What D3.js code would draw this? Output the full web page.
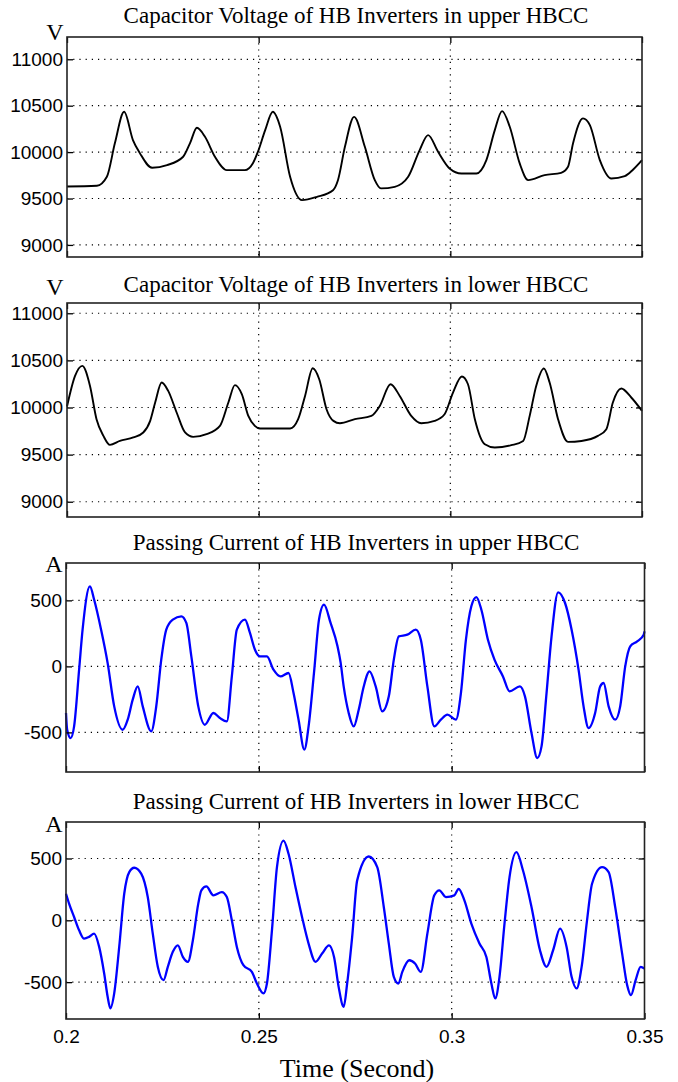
<!DOCTYPE html>
<html>
<head>
<meta charset="utf-8">
<script src="https://cdn.jsdelivr.net/npm/d3@7"></script>
<style>
	body { margin: 0; background: #fff; }
	svg { display: block; }
	.title, .unit, .xlabel { font-family: "Liberation Serif", "Times New Roman", serif; fill: #000; }
	.grid line { stroke: #000; stroke-width: 1.2; stroke-dasharray: 1.2,5; }
</style>
</head>
<body>
<svg id="chart" width="678" height="1082"></svg>
<script>
// Global variables
var svg,
	panels;

// tick values and labels
var xTicks = [0.2, 0.25, 0.3, 0.35];
var xTickLabels = ["0.2", "0.25", "0.3", "0.35"];
var voltTicks = [9000, 9500, 10000, 10500, 11000];
var currTicks = [-500, 0, 500];

var titles = [
	"Capacitor Voltage of HB Inverters in upper HBCC",
	"Capacitor Voltage of HB Inverters in lower HBCC",
	"Passing Current of HB Inverters in upper HBCC",
	"Passing Current of HB Inverters in lower HBCC"
];
var units = ["V", "V", "A", "A"];

// y limits
var yLimits = [[8870, 11240], [8838, 11109], [-800, 783], [-798, 795]];

// [time (s), value]
var upperVoltage = [
	[0.2000, 9630], [0.2078, 9637], [0.2104, 9734], [0.2125, 10097], [0.2149, 10434],
	[0.2172, 10130], [0.2190, 9989], [0.2222, 9831], [0.2261, 9860], [0.2303, 9950],
	[0.2321, 10097], [0.2339, 10262], [0.2360, 10165], [0.2386, 9950], [0.2417, 9806],
	[0.2464, 9806], [0.2485, 9880], [0.2498, 10003], [0.2517, 10237], [0.2537, 10434],
	[0.2556, 10273], [0.2582, 9734], [0.2613, 9483], [0.2652, 9518], [0.2694, 9590],
	[0.2707, 9700], [0.2725, 10057], [0.2749, 10380], [0.2777, 10057], [0.2803, 9698],
	[0.2819, 9609], [0.2855, 9626], [0.2890, 9734], [0.2920, 10022], [0.2942, 10183],
	[0.2968, 10003], [0.2998, 9824], [0.3029, 9770], [0.3068, 9770], [0.3094, 9914],
	[0.3116, 10237], [0.3135, 10442], [0.3155, 10273], [0.3181, 9878], [0.3203, 9698],
	[0.3246, 9752], [0.3289, 9777], [0.3307, 9842], [0.3320, 10093], [0.3346, 10363],
	[0.3364, 10291], [0.3390, 9914], [0.3420, 9716], [0.3455, 9741], [0.3477, 9813],
	[0.3500, 9914]
];

var lowerVoltage = [
	[0.2000, 10010], [0.2021, 10335], [0.2040, 10442], [0.2060, 10229], [0.2077, 9876],
	[0.2095, 9699], [0.2112, 9603], [0.2138, 9645], [0.2173, 9682], [0.2199, 9735],
	[0.2217, 9858], [0.2230, 10053], [0.2247, 10265], [0.2264, 10176], [0.2286, 9947],
	[0.2308, 9735], [0.2329, 9688], [0.2364, 9717], [0.2399, 9805], [0.2421, 10053],
	[0.2438, 10237], [0.2456, 10141], [0.2473, 9911], [0.2490, 9805], [0.2503, 9777],
	[0.2582, 9777], [0.2603, 9876], [0.2621, 10123], [0.2641, 10417], [0.2658, 10300],
	[0.2677, 9982], [0.2695, 9858], [0.2712, 9833], [0.2751, 9876], [0.2794, 9911],
	[0.2816, 10017], [0.2844, 10247], [0.2868, 10123], [0.2898, 9911], [0.2924, 9833],
	[0.2959, 9858], [0.2985, 9929], [0.3007, 10159], [0.3030, 10329], [0.3046, 10247],
	[0.3064, 9876], [0.3090, 9610], [0.3116, 9575], [0.3159, 9600], [0.3190, 9645],
	[0.3207, 9911], [0.3224, 10229], [0.3244, 10414], [0.3259, 10265], [0.3281, 9876],
	[0.3307, 9635], [0.3342, 9645], [0.3385, 9699], [0.3407, 9770], [0.3424, 10053],
	[0.3446, 10202], [0.3472, 10106], [0.3500, 9964]
];

var upperCurrent = [
	[0.2000, -353], [0.2003, -480], [0.2012, -543], [0.2021, -455], [0.2034, -25],
	[0.2043, 278], [0.2062, 606], [0.2073, 505], [0.2091, 278], [0.2108, 25],
	[0.2125, -303], [0.2147, -480], [0.2160, -404], [0.2173, -252], [0.2186, -152],
	[0.2199, -303], [0.2221, -492], [0.2234, -303], [0.2247, 51], [0.2260, 278],
	[0.2277, 354], [0.2299, 379], [0.2312, 329], [0.2325, 76], [0.2343, -303],
	[0.2360, -442], [0.2382, -353], [0.2399, -391], [0.2417, -417], [0.2430, -76],
	[0.2443, 278], [0.2464, 354], [0.2477, 253], [0.2490, 126], [0.2503, 76],
	[0.2521, 76], [0.2538, -25], [0.2556, -76], [0.2577, -50], [0.2590, -202],
	[0.2603, -404], [0.2618, -631], [0.2629, -455], [0.2643, -50], [0.2656, 354],
	[0.2669, 467], [0.2686, 329], [0.2704, 152], [0.2712, 30], [0.2720, -152],
	[0.2733, -353], [0.2746, -455], [0.2759, -328], [0.2772, -152], [0.2787, -38],
	[0.2803, -152], [0.2820, -341], [0.2837, -227], [0.2850, 51], [0.2863, 227],
	[0.2885, 240], [0.2907, 278], [0.2920, 202], [0.2937, -152], [0.2955, -455],
	[0.2972, -404], [0.2989, -366], [0.3011, -404], [0.3024, -202], [0.3037, 202],
	[0.3051, 455], [0.3064, 525], [0.3077, 429], [0.3094, 202], [0.3111, 51],
	[0.3133, -76], [0.3150, -189], [0.3177, -152], [0.3190, -227], [0.3207, -505],
	[0.3222, -694], [0.3233, -606], [0.3246, -202], [0.3259, 227], [0.3276, 561],
	[0.3294, 480], [0.3311, 278], [0.3329, -25], [0.3342, -303], [0.3355, -467],
	[0.3372, -353], [0.3385, -152], [0.3394, -126], [0.3407, -303], [0.3424, -404],
	[0.3437, -303], [0.3450, 0], [0.3463, 152], [0.3481, 189], [0.3498, 240],
	[0.3500, 265]
];

var lowerCurrent = [
	[0.2000, 215], [0.2008, 135], [0.2021, 27], [0.2034, -81], [0.2047, -148],
	[0.2060, -134], [0.2073, -108], [0.2086, -215], [0.2099, -430], [0.2108, -618],
	[0.2115, -712], [0.2125, -591], [0.2138, -215], [0.2151, 215], [0.2164, 390],
	[0.2177, 425], [0.2195, 377], [0.2212, 188], [0.2225, -108], [0.2238, -376],
	[0.2253, -484], [0.2264, -376], [0.2277, -255], [0.2290, -202], [0.2303, -296],
	[0.2316, -336], [0.2329, -161], [0.2343, 135], [0.2351, 242], [0.2364, 274],
	[0.2382, 202], [0.2404, 228], [0.2417, 188], [0.2430, 0], [0.2443, -215],
	[0.2460, -363], [0.2482, -417], [0.2495, -511], [0.2512, -591], [0.2521, -511],
	[0.2534, -81], [0.2547, 430], [0.2564, 645], [0.2577, 538], [0.2595, 269],
	[0.2612, 27], [0.2629, -188], [0.2647, -336], [0.2664, -269], [0.2682, -202],
	[0.2695, -296], [0.2707, -540], [0.2720, -699], [0.2729, -511], [0.2742, -134],
	[0.2755, 323], [0.2785, 516], [0.2807, 430], [0.2824, 108], [0.2837, -188],
	[0.2850, -457], [0.2862, -511], [0.2872, -417], [0.2890, -323], [0.2905, -349],
	[0.2920, -417], [0.2937, -108], [0.2955, 202], [0.2968, 242], [0.2985, 188],
	[0.3007, 202], [0.3018, 255], [0.3033, 161], [0.3051, -27], [0.3072, -188],
	[0.3090, -296], [0.3103, -511], [0.3113, -632], [0.3124, -457], [0.3137, -27],
	[0.3150, 349], [0.3168, 551], [0.3185, 403], [0.3207, 108], [0.3229, -242],
	[0.3246, -376], [0.3263, -242], [0.3281, -67], [0.3298, -215], [0.3311, -457],
	[0.3324, -551], [0.3337, -376], [0.3351, 0], [0.3364, 296], [0.3390, 430],
	[0.3407, 390], [0.3424, 108], [0.3442, -269], [0.3455, -524], [0.3465, -605],
	[0.3477, -484], [0.3490, -376], [0.3500, -390]
];

function init() {
	svg = d3.select("#chart");

	// layout of the four stacked panels
	panels = [
		{ top: 37, bottom: 257, left: 67, right: 642, ticks: voltTicks, data: upperVoltage, color: "#000", lw: 1.9, titleY: 23, unitY: 40 },
		{ top: 303, bottom: 517, left: 67, right: 642, ticks: voltTicks, data: lowerVoltage, color: "#000", lw: 1.9, titleY: 292, unitY: 295 },
		{ top: 563, bottom: 772, left: 66, right: 644.5, ticks: currTicks, data: upperCurrent, color: "#0000ff", lw: 2.3, titleY: 550, unitY: 572 },
		{ top: 822, bottom: 1019, left: 66, right: 644.5, ticks: currTicks, data: lowerCurrent, color: "#0000ff", lw: 2.3, titleY: 809, unitY: 832 }
	];

	panels.forEach(function(p, i) {
		p.ylim = yLimits[i];
		p.title = titles[i];
		p.unit = units[i];
		drawPanel(p, i == panels.length - 1);
	});

	svg.append("text")
		.attr("class", "xlabel")
		.attr("x", 357)
		.attr("y", 1077)
		.attr("text-anchor", "middle")
		.style("font-size", "26px")
		.text("Time (Second)");
}

function styleAxis(g) {
	g.attr("font-family", "'Liberation Sans', Arial, sans-serif")
		.attr("font-size", 19);
	g.select(".domain").remove();
	g.selectAll(".tick line").attr("stroke", "#000").attr("stroke-width", 1.3);
	g.selectAll(".tick text").attr("fill", "#000");
}

function drawPanel(p, showX) {
	var x = d3.scaleLinear()
		.domain([xTicks[0], xTicks[xTicks.length - 1]])
		.range([p.left, p.right]);

	var y = d3.scaleLinear()
		.domain(p.ylim)
		.range([p.bottom, p.top]);

	var g = svg.append("g");

	// dotted grid
	var grid = g.append("g").attr("class", "grid");
	grid.selectAll(".hg")
		.data(p.ticks)
		.enter().append("line")
		.attr("x1", p.left)
		.attr("x2", p.right)
		.attr("y1", function(d) { return y(d); })
		.attr("y2", function(d) { return y(d); });
	grid.selectAll(".vg")
		.data(xTicks.slice(1, -1))
		.enter().append("line")
		.attr("x1", function(d) { return x(d); })
		.attr("x2", function(d) { return x(d); })
		.attr("y1", p.top)
		.attr("y2", p.bottom);

	// trace
	var line = d3.line()
		.x(function(d) { return x(d[0]); })
		.y(function(d) { return y(d[1]); })
		.curve(d3.curveMonotoneX);

	g.append("path")
		.datum(p.data)
		.attr("d", line)
		.attr("fill", "none")
		.attr("stroke", p.color)
		.attr("stroke-width", p.lw)
		.attr("stroke-linejoin", "round");

	// inward ticks on all four sides
	g.append("g")
		.attr("transform", "translate(" + p.left + ",0)")
		.call(d3.axisLeft(y).tickValues(p.ticks).tickSize(-6).tickPadding(4)
			.tickFormat(function(d) { return String(d); }))
		.call(styleAxis);

	g.append("g")
		.attr("transform", "translate(" + p.right + ",0)")
		.call(d3.axisRight(y).tickValues(p.ticks).tickSize(-6).tickFormat(""))
		.call(styleAxis);

	g.append("g")
		.attr("transform", "translate(0," + p.top + ")")
		.call(d3.axisTop(x).tickValues(xTicks).tickSize(-6).tickFormat(""))
		.call(styleAxis);

	g.append("g")
		.attr("transform", "translate(0," + p.bottom + ")")
		.call(d3.axisBottom(x).tickValues(xTicks).tickSize(-6).tickPadding(11)
			.tickFormat(function(d, i) { return showX ? xTickLabels[i] : ""; }))
		.call(styleAxis);

	// box
	g.append("rect")
		.attr("x", p.left)
		.attr("y", p.top)
		.attr("width", p.right - p.left)
		.attr("height", p.bottom - p.top)
		.attr("fill", "none")
		.attr("stroke", "#222")
		.attr("stroke-width", 1.6);

	g.append("text")
		.attr("class", "title")
		.attr("x", 356)
		.attr("y", p.titleY)
		.attr("text-anchor", "middle")
		.style("font-size", "23px")
		.text(p.title);

	g.append("text")
		.attr("class", "unit")
		.attr("x", p.left - 12)
		.attr("y", p.unitY)
		.attr("text-anchor", "middle")
		.style("font-size", "24px")
		.text(p.unit);
}

window.onload = init;
</script>
</body>
</html>
